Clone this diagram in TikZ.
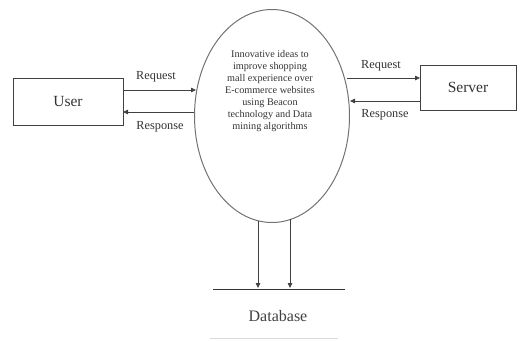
\documentclass[tikz,border=0pt]{standalone}
\usepackage{fontspec}
\setmainfont{Liberation Serif}
\usetikzlibrary{arrows.meta,shapes.geometric}
\begin{document}
\begin{tikzpicture}[x=1pt,y=-1pt,
  ent/.style={draw=black!75,line width=0.9pt,inner sep=0pt,font=\fontsize{15.5}{18}\selectfont,text=black!80},
  flow/.style={draw=black!75,line width=0.8pt,-{Triangle[length=5pt,width=4.5pt]}},
  lbl/.style={font=\fontsize{12.3}{14}\selectfont,inner sep=0pt,text=black!80}]
\useasboundingbox (0,0) rectangle (521,340);
\node[ent,minimum width=110pt,minimum height=47pt] (user) at (68,101.5) {User};
\node[ent,minimum width=96pt,minimum height=45pt] (server) at (468,87.5) {Server};
\node[draw=black!55,line width=1pt,ellipse,minimum width=155pt,minimum height=213pt,inner sep=0pt] (proc) at (272,116) {};
\node[align=center,font=\fontsize{10.2}{11.9}\selectfont,text=black!80] (ptext) at (270,91) {Innovative ideas to\\improve shopping\\mall experience over\\E-commerce websites\\using Beacon\\technology and Data\\mining algorithms};
\coordinate (ul1) at (123,90);
\coordinate (pl1) at (196,90);
\coordinate (ul2) at (123,112);
\coordinate (pl2) at (194,112);
\draw[flow] (ul1) -- (pl1);
\draw[flow] (pl2) -- (ul2);
\coordinate (pr1) at (347,78);
\coordinate (sr1) at (420,78);
\coordinate (pr2) at (350,101);
\coordinate (sr2) at (420,101);
\draw[flow] (pr1) -- (sr1);
\draw[flow] (sr2) -- (pr2);
\node[lbl] (lreq1) at (156,77) {Request};
\node[lbl] (lres1) at (160,127) {Response};
\node[lbl] (lreq2) at (381,66) {Request};
\node[lbl] (lres2) at (385,115) {Response};
\coordinate (dbl) at (213,289);
\coordinate (dbr) at (345,289);
\draw[black!80,line width=0.9pt] (dbl) -- (dbr);
\coordinate (v1t) at (258,221);
\coordinate (v1b) at (258,288);
\coordinate (v2t) at (290,219);
\coordinate (v2b) at (290,288);
\draw[flow] (v1t) -- (v1b);
\draw[flow] (v2t) -- (v2b);
\node[font=\fontsize{16}{18}\selectfont,text=black!75] (db) at (278,316) {Database};
\coordinate (bl) at (210,338);
\coordinate (br) at (338,338);
\draw[black!15,line width=0.8pt] (bl) -- (br);
\end{tikzpicture}
\end{document}
